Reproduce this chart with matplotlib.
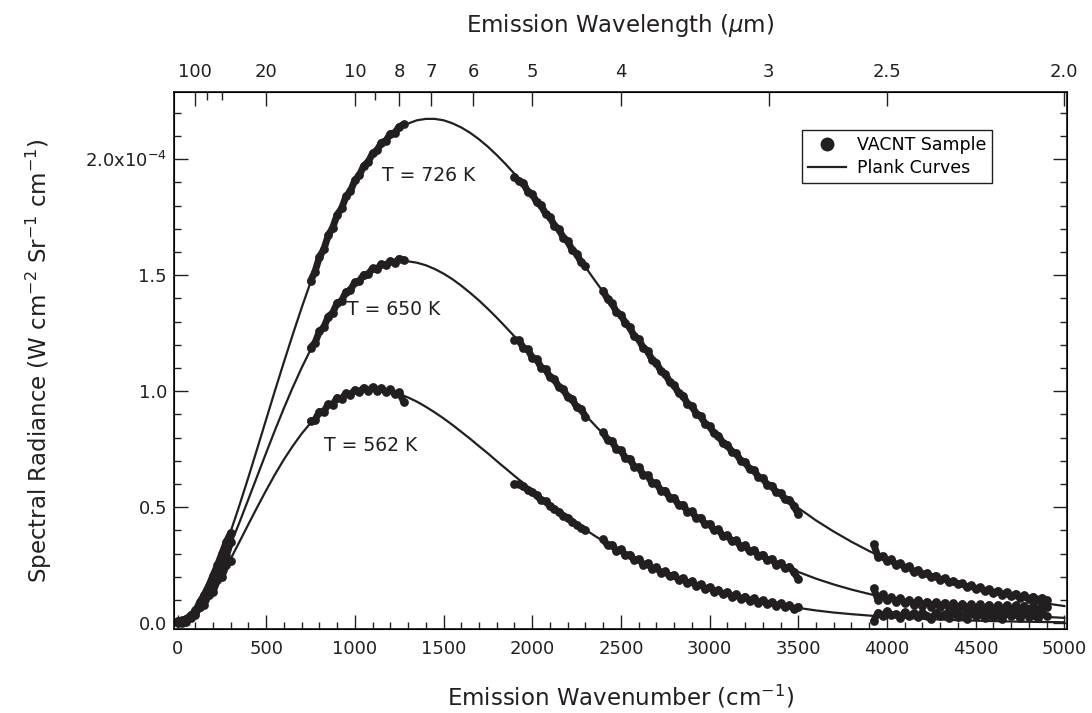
import numpy as np
import matplotlib
matplotlib.use("Agg")
import matplotlib.pyplot as plt
from matplotlib.lines import Line2D

plt.rcParams['font.family'] = ['DejaVu Sans']
ink = '#231f20'

# radiance in units of 1e-4 W cm^-2 Sr^-1 cm^-1
wn_curve = np.concatenate([np.arange(0, 301, 25), np.arange(350, 2501, 50),
                           np.arange(2600, 5001, 100)])
curve_726 = [0, .004, .014, .031, .054, .083, .116, .154, .196, .241, .290, .342, .396,
             .510, .630, .754, .879, 1.004, 1.126, 1.245, 1.360, 1.469, 1.571, 1.666,
             1.754, 1.833, 1.904, 1.966, 2.020, 2.066, 2.103, 2.132, 2.154, 2.168,
             2.174, 2.174, 2.168, 2.155, 2.137, 2.114, 2.086, 2.054, 2.018, 1.979,
             1.937, 1.892, 1.845, 1.796, 1.746, 1.694, 1.642, 1.589, 1.535, 1.481,
             1.428, 1.374, 1.322,
             1.218, 1.118, 1.021, .930, .844, .764, .689, .619, .555, .497, .443, .395,
             .351, .311, .275, .243, .214, .189, .166, .145, .127, .111, .097, .085, .074]
curve_650 = [0, .003, .013, .028, .048, .073, .102, .135, .171, .210, .252, .296, .341,
             .436, .535, .635, .735, .833, .927, 1.017, 1.101, 1.179, 1.251, 1.315,
             1.371, 1.420, 1.462, 1.496, 1.522, 1.541, 1.554, 1.560, 1.560, 1.554,
             1.543, 1.527, 1.507, 1.483, 1.455, 1.424, 1.391, 1.355, 1.317, 1.277,
             1.236, 1.195, 1.152, 1.110, 1.067, 1.024, .981, .939, .897, .856,
             .816, .776, .738,
             .665, .596, .533, .474, .421, .372, .328, .288, .252, .221, .192, .167,
             .145, .126, .109, .094, .081, .070, .060, .051, .044, .0375, .032, .027, .023]
curve_562 = [0, .003, .011, .024, .041, .062, .086, .113, .143, .174, .208, .242, .278,
             .352, .427, .501, .573, .642, .706, .764, .817, .863, .903, .936,
             .963, .983, .998, 1.006, 1.009, 1.007, 1.000, .988, .973, .955,
             .933, .909, .883, .855, .825, .795, .763, .732, .699, .667,
             .635, .604, .573, .542, .513, .484, .456, .429, .403, .378,
             .354, .331, .310,
             .270, .234, .202, .173, .149, .127, .108, .092, .078, .066, .055, .046,
             .039, .033, .027, .023, .019, .016, .013, .011, .009, .0074, .0061, .0050, .0041]

# measured sample points, five spectral windows
seg_sizes = [13, 22, 17, 45, 40]
wn_data = np.concatenate([np.arange(0, 301, 25), np.arange(750, 1276, 25),
                          np.arange(1900, 2301, 25), np.arange(2400, 3501, 25),
                          np.arange(3925, 4901, 25)])
vacnt_726 = [0.005, 0.012, 0.018, 0.036, 0.050, 0.090, 0.122, 0.160, 0.205, 0.250, 0.300, 0.350, 0.390,
             1.475, 1.515, 1.578, 1.612, 1.672, 1.705, 1.760, 1.788, 1.840, 1.862, 1.910,
             1.930, 1.972, 1.988, 2.026, 2.038, 2.072, 2.080, 2.110, 2.114, 2.140, 2.150,
             1.925, 1.905, 1.897, 1.860, 1.850, 1.815, 1.801, 1.765, 1.751, 1.714, 1.699,
             1.662, 1.647, 1.609, 1.593, 1.556, 1.540,
             1.434, 1.396, 1.379, 1.341, 1.330, 1.293, 1.275, 1.237, 1.224, 1.188,
             1.174, 1.136, 1.123, 1.087, 1.075, 1.040, 1.027, 0.992, 0.981, 0.947,
             0.936, 0.903, 0.893, 0.859, 0.850, 0.818, 0.809, 0.777, 0.770, 0.739,
             0.732, 0.701, 0.695, 0.665, 0.660, 0.630, 0.625, 0.597, 0.593, 0.565,
             0.561, 0.534, 0.532, 0.505, 0.470,
             0.340, 0.285, 0.290, 0.268, 0.275, 0.252, 0.258, 0.240, 0.245, 0.222,
             0.230, 0.210, 0.216, 0.198, 0.205, 0.186, 0.194, 0.176, 0.182, 0.168,
             0.172, 0.156, 0.163, 0.148, 0.155, 0.138, 0.147, 0.130, 0.140, 0.123,
             0.133, 0.116, 0.127, 0.110, 0.121, 0.105, 0.115, 0.100, 0.110, 0.098]
vacnt_650 = [0.010, 0.002, 0.020, 0.022, 0.055, 0.068, 0.110, 0.128, 0.180, 0.205, 0.262, 0.290, 0.350,
             1.188, 1.208, 1.258, 1.276, 1.322, 1.338, 1.380, 1.390, 1.428, 1.436, 1.470,
             1.474, 1.503, 1.504, 1.530, 1.527, 1.548, 1.543, 1.562, 1.553, 1.572, 1.566,
             1.222, 1.220, 1.186, 1.180, 1.145, 1.138, 1.102, 1.095, 1.060, 1.052, 1.017,
             1.009, 0.974, 0.967, 0.932, 0.925, 0.890,
             0.824, 0.789, 0.784, 0.750, 0.746, 0.712, 0.709, 0.675, 0.673, 0.640,
             0.638, 0.605, 0.604, 0.572, 0.572, 0.540, 0.541, 0.510, 0.511, 0.481,
             0.482, 0.453, 0.455, 0.426, 0.429, 0.400, 0.404, 0.376, 0.380, 0.353,
             0.357, 0.330, 0.336, 0.310, 0.316, 0.290, 0.296, 0.271, 0.278, 0.253,
             0.260, 0.236, 0.244, 0.220, 0.190,
             0.150, 0.100, 0.125, 0.098, 0.112, 0.092, 0.108, 0.085, 0.101, 0.080,
             0.098, 0.076, 0.093, 0.072, 0.090, 0.070, 0.088, 0.066, 0.085, 0.065,
             0.084, 0.062, 0.082, 0.060, 0.081, 0.058, 0.080, 0.057, 0.079, 0.056,
             0.078, 0.055, 0.077, 0.054, 0.076, 0.053, 0.075, 0.052, 0.074, 0.068]
vacnt_562 = [0.000, 0.008, 0.004, 0.030, 0.035, 0.070, 0.080, 0.120, 0.135, 0.185, 0.200, 0.250, 0.270,
             0.872, 0.876, 0.912, 0.912, 0.945, 0.942, 0.972, 0.966, 0.992, 0.984, 1.006,
             0.996, 1.015, 1.000, 1.018, 1.002, 1.014, 0.996, 1.008, 0.988, 0.995, 0.955,
             0.600, 0.598, 0.590, 0.575, 0.565, 0.552, 0.530, 0.525, 0.505, 0.492, 0.480,
             0.462, 0.455, 0.438, 0.425, 0.410, 0.400,
             0.362, 0.336, 0.338, 0.312, 0.318, 0.293, 0.296, 0.272, 0.277, 0.253,
             0.258, 0.235, 0.241, 0.218, 0.224, 0.202, 0.209, 0.187, 0.194, 0.173,
             0.180, 0.160, 0.168, 0.148, 0.156, 0.136, 0.144, 0.125, 0.134, 0.115,
             0.124, 0.105, 0.115, 0.097, 0.107, 0.089, 0.099, 0.081, 0.091, 0.074,
             0.085, 0.068, 0.078, 0.062, 0.072,
             0.010, 0.045, 0.030, 0.052, 0.035, 0.040, 0.022, 0.048, 0.030, 0.043,
             0.025, 0.046, 0.033, 0.020, 0.044, 0.031, 0.038, 0.022, 0.047, 0.028,
             0.036, 0.019, 0.045, 0.030, 0.041, 0.024, 0.048, 0.027, 0.035, 0.020,
             0.044, 0.031, 0.039, 0.023, 0.046, 0.028, 0.037, 0.021, 0.042, 0.030]

temp_labels = ["T = 726 K", "T = 650 K", "T = 562 K"]
label_pos = [(1415, 1.93), (1218, 1.353), (1088, 0.765)]

y_ticks = [0.0, 0.5, 1.0, 1.5, 2.0]
y_labels = ["0.0", "0.5", "1.0", "1.5", "2.0x10$^{-4}$"]
wl_major = [100, 20, 10, 8, 7, 6, 5, 4, 3, 2.5, 2.0]
wl_labels = ["100", "20", "10", "8", "7", "6", "5", "4", "3", "2.5", "2.0"]
wl_minor = [60, 40, 9]

fig = plt.figure(figsize=(10.92, 7.13), dpi=100)
ax = fig.add_axes([0.1593, 0.1178, 0.8178, 0.7532])

for curve in (curve_726, curve_650, curve_562):
    ax.plot(wn_curve, curve, color=ink, lw=1.6, zorder=2)

# points are so dense in the original that each window reads as a band
breaks = np.cumsum(seg_sizes)[:-1]
wn_gapped = np.insert(wn_data.astype(float), breaks, np.nan)
for vals in (vacnt_726, vacnt_650, vacnt_562):
    vals_gapped = np.insert(np.array(vals, dtype=float), breaks, np.nan)
    ax.plot(wn_gapped, vals_gapped, '-', color=ink, lw=5, solid_capstyle='round',
            solid_joinstyle='round', zorder=3)
    ax.plot(wn_data, vals, 'o', color=ink, ms=6.3, mew=0, zorder=3)

for txt, (xx, yy) in zip(temp_labels, label_pos):
    ax.text(xx, yy, txt, fontsize=13.5, ha='center', va='center', color=ink)

ax.set_xlim(-20, 5015)
ax.set_ylim(-0.025, 2.29)
ax.set_xticks(np.arange(0, 5001, 500))
ax.set_xticks(np.arange(0, 5001, 100), minor=True)
ax.set_yticks(y_ticks, y_labels)
ax.set_yticks(np.arange(0, 2.25, 0.1), minor=True)
ax.tick_params(which='both', direction='in', top=False, right=True,
               labelsize=13, width=1, colors=ink)
ax.tick_params(which='major', length=10, pad=8)
ax.tick_params(which='minor', length=5)
ax.tick_params(axis='y', which='major', pad=5)
for s in ax.spines.values():
    s.set_linewidth(1.3)
    s.set_color(ink)

ax.set_xlabel("Emission Wavenumber (cm$^{-1}$)", fontsize=16.5, labelpad=18, color=ink)
ax.set_ylabel("Spectral Radiance (W cm$^{-2}$ Sr$^{-1}$ cm$^{-1}$)", fontsize=16.5,
              labelpad=22, color=ink)

ax2 = ax.twiny()
ax2.set_xlim(ax.get_xlim())
ax2.set_xticks([10000 / w for w in wl_major], wl_labels)
ax2.set_xticks([10000 / w for w in wl_minor], minor=True)
ax2.tick_params(which='both', direction='in', labelsize=13, width=1, colors=ink)
ax2.tick_params(which='major', length=10, pad=8)
ax2.tick_params(which='minor', length=6)
ax2.set_xlabel("Emission Wavelength ($\\mu$m)", fontsize=16.5, labelpad=22, color=ink)

handles = [Line2D([], [], marker='o', ls='none', color=ink, ms=9),
           Line2D([], [], color=ink, lw=1.6)]
leg = ax.legend(handles, ["VACNT Sample", "Plank Curves"], loc='upper right',
                bbox_to_anchor=(0.926, 0.945), fontsize=12.5, fancybox=False,
                edgecolor=ink, framealpha=1, handlelength=2.2, borderpad=0.35,
                labelspacing=0.25, handletextpad=0.6)
leg.get_frame().set_linewidth(1.0)

fig.savefig("out.png", dpi=100)
